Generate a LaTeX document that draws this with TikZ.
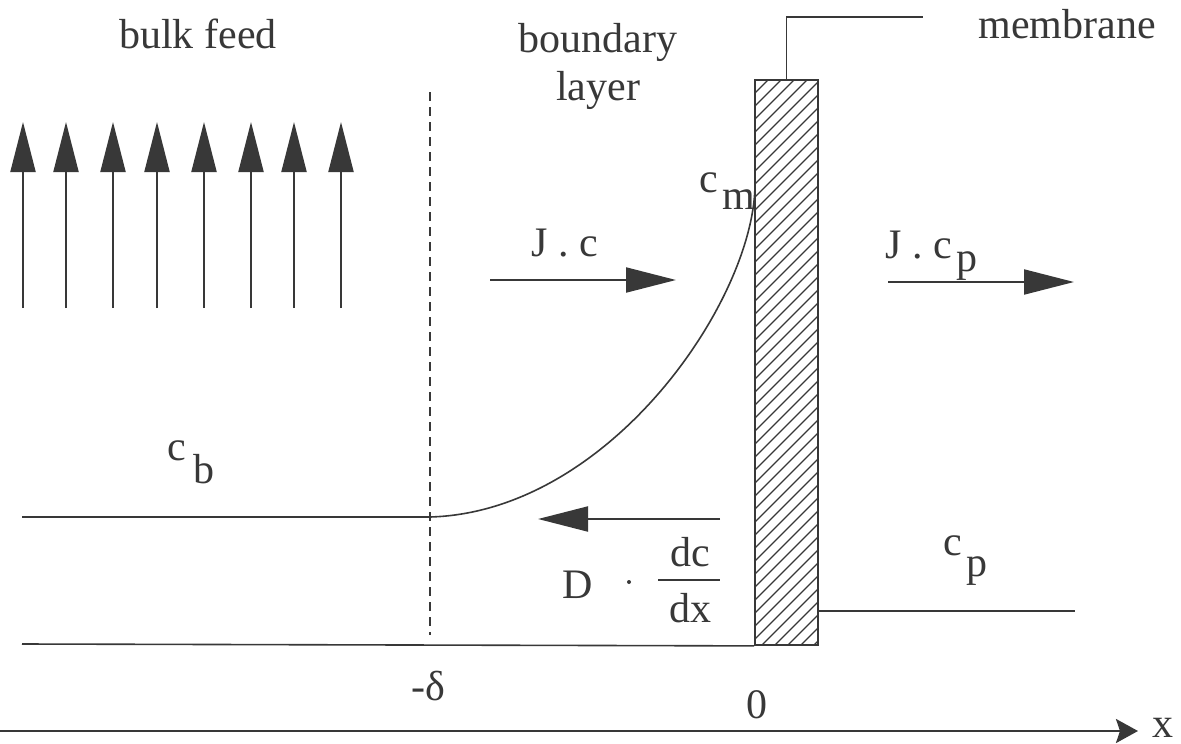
\documentclass[tikz,border=0pt]{standalone}
\usepackage{fontspec}
\setmainfont{Liberation Serif}
\usetikzlibrary{arrows.meta}
\definecolor{ink}{HTML}{383838}
\begin{document}
\begin{tikzpicture}[x=1pt,y=-1pt,
  lab/.style={text=ink,inner sep=0pt,anchor=base,font=\fontsize{42}{48}\selectfont},
  ln/.style={draw=ink,line width=1.6pt},
  fat/.style={draw=ink,line width=2pt,-{Triangle[length=50pt,width=25pt]}},
  axisarr/.style={draw=ink,line width=2.6pt,-{Stealth[length=22pt,width=24pt,inset=4pt]}}]
\useasboundingbox (0,0) rectangle (1181,744);
% membrane
\node[draw=ink,line width=1.8pt,minimum width=63pt,minimum height=565pt,inner sep=0pt] (mem) at (786.5,362.5) {};
\begin{scope}
\clip (mem.south west) rectangle (mem.north east);
\foreach \y in {80,93,...,720} \draw[ink,line width=1.3pt] (755,\y) -- ++(63,-63);
\end{scope}
\coordinate (leadend) at (923,17);
\draw[ln] (mem.north) |- (leadend);
\node[lab] (membrane) at (1067,38) {membrane};
% headings
\node[lab] (bulk) at (198,48) {bulk feed};
\node[lab] (bnd) at (598,52) {boundary};
\node[lab] (layer) at (598,100) {layer};
% up arrows
\foreach \i/\x in {1/23,2/66,3/113,4/157,5/204,6/251,7/294,8/341}{
  \coordinate (ub\i) at (\x,308);
  \coordinate (ut\i) at (\x,122);
  \draw[fat] (ub\i) -- (ut\i);
}
% dashed boundary
\coordinate (dtop) at (430,92);
\coordinate (dbot) at (430,635);
\draw[draw=ink,line width=1.6pt,dash pattern=on 9pt off 6pt] (dtop) -- (dbot);
% concentration profile
\coordinate (cbstart) at (22,517);
\coordinate (delta) at (430,517);
\coordinate (cmpt) at (755,185);
\draw[ln] (cbstart) -- (delta) .. controls (610,512) and (754,300) .. (cmpt);
% bottom line and permeate line
\coordinate (bstart) at (22,644);
\draw[ln] (bstart) -- (mem.south west);
\coordinate (pstart) at (818,611);
\coordinate (pend) at (1075,611);
\draw[ln] (pstart) -- (pend);
% flux arrows
\coordinate (jc1) at (490,280); \coordinate (jc2) at (676,280);
\draw[fat] (jc1) -- (jc2);
\coordinate (jp1) at (888,282); \coordinate (jp2) at (1074,282);
\draw[fat] (jp1) -- (jp2);
\coordinate (d1) at (720,519); \coordinate (d2) at (538,519);
\draw[fat] (d1) -- (d2);
% labels
\node[lab] (jc) at (565,256) {J . c};
\node[lab,anchor=base west] (cm) at (699,192) {c\hspace{5pt}\raisebox{-17pt}{m}};
\node[lab,anchor=base west] (jcp) at (885,258) {J . c\hspace{5pt}\raisebox{-13pt}{p}};
\node[lab,anchor=base west] (cb) at (167,460) {c\hspace{8pt}\raisebox{-23pt}{b}};
\node[lab,anchor=base west] (cp) at (943,555) {c\hspace{5pt}\raisebox{-21pt}{p}};
\node[lab] (D) at (578,598) {D};
\fill[ink] (629,582) circle (2pt);
\node[lab] (dc) at (690,566) {dc};
\node[lab] (dx) at (690,622) {dx};
\draw[ln] (658,580) -- (720,580);
\node[lab] (mdelta) at (428,700) {-δ};
\node[lab] (zero) at (757,718) {0};
% axis
\coordinate (ax1) at (0,731); \coordinate (ax2) at (1138,731);
\draw[axisarr] (ax1) -- (ax2);
\node[lab] (xlab) at (1163,737) {x};
\end{tikzpicture}
\end{document}
